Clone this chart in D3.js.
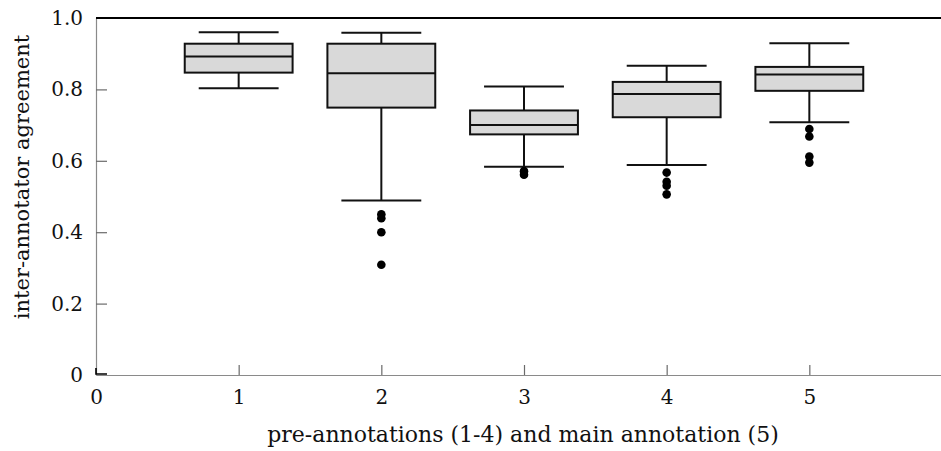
<!DOCTYPE html>
<html>
<head>
<meta charset="utf-8">
<script src="https://cdn.jsdelivr.net/npm/d3@7"></script>
<style>
  body { margin: 0; background: #fff; }
  text { font-family: "DejaVu Serif", serif; fill: #111; }
</style>
</head>
<body>
<div id="chart"></div>
<script>
// values
const groups = [1, 2, 3, 4, 5];
const whiskerHigh = [0.960, 0.959, 0.808, 0.866, 0.929];
const upperQuartile = [0.928, 0.928, 0.741, 0.821, 0.863];
const median = [0.892, 0.845, 0.700, 0.787, 0.842];
const lowerQuartile = [0.847, 0.749, 0.674, 0.722, 0.796];
const whiskerLow = [0.803, 0.489, 0.583, 0.588, 0.708];
const outliers = [
  [],
  [0.450, 0.439, 0.400, 0.309],
  [0.571, 0.561],
  [0.567, 0.541, 0.530, 0.506],
  [0.689, 0.668, 0.612, 0.595]
];
const xTicks = [0, 1, 2, 3, 4, 5];
const yTicks = [0, 0.2, 0.4, 0.6, 0.8, 1.0];
const xTitle = "pre-annotations (1-4) and main annotation (5)";
const yTitle = "inter-annotator agreement";

const width = 941, height = 451;
const margin = {top: 18, right: -11, bottom: 76, left: 96};

const svg = d3.select("#chart")
    .append("svg")
    .attr("width", width)
    .attr("height", height);

const x = d3.scaleLinear()
    .domain([0, 6])
    .range([margin.left, width - margin.right]);

const y = d3.scaleLinear()
    .domain([0, 1])
    .range([height - margin.bottom, margin.top]);

const boxes = groups.map((g, i) => ({
  g: g,
  hi: whiskerHigh[i],
  q3: upperQuartile[i],
  med: median[i],
  q1: lowerQuartile[i],
  lo: whiskerLow[i],
  out: outliers[i]
}));

// axes
const yAxis = svg.append("g")
    .attr("transform", "translate(" + x(0) + ",0)")
    .call(d3.axisLeft(y)
      .tickValues(yTicks)
      .tickFormat(d => d === 0 ? "0" : d3.format(".1f")(d))
      .tickSizeInner(-11)
      .tickSizeOuter(0)
      .tickPadding(13));

const xAxis = svg.append("g")
    .attr("transform", "translate(0," + y(0) + ")")
    .call(d3.axisBottom(x)
      .tickValues(xTicks)
      .tickFormat(d3.format("d"))
      .tickSizeInner(-10)
      .tickSizeOuter(0)
      .tickPadding(15));

[yAxis, xAxis].forEach(a => {
  a.select(".domain").attr("stroke", "#8a8a8a").attr("stroke-width", 1.2);
  a.selectAll(".tick line").attr("stroke", "#6a6a6a").attr("stroke-width", 1.2);
  a.selectAll(".tick text")
    .style("font-family", "'DejaVu Serif', serif")
    .style("font-size", "20px")
    .attr("fill", "#111");
});
// zero ticks get drawn separately as a small black corner
yAxis.selectAll(".tick").filter(d => d === 0 || d === 1).select("line").remove();
xAxis.selectAll(".tick").filter(d => d === 0).select("line").remove();

svg.append("path")
    .attr("d", d3.line()([[x(0), y(0) - 7], [x(0), y(0) - 1], [x(0) + 11, y(0) - 1]]))
    .attr("fill", "none")
    .attr("stroke", "#000")
    .attr("stroke-width", 1.6);

// top border
svg.append("line")
    .attr("x1", x(0))
    .attr("x2", width)
    .attr("y1", y(1))
    .attr("y2", y(1))
    .attr("stroke", "#000")
    .attr("stroke-width", 2);

// box plots
const boxHalf = (x(0.378) - x(0));
const capHalf = (x(0.28) - x(0));

const bg = svg.append("g").attr("class", "boxes");

const box = bg.selectAll("g.box")
    .data(boxes)
    .enter().append("g")
    .attr("class", "box");

box.append("line")
    .attr("x1", d => x(d.g)).attr("x2", d => x(d.g))
    .attr("y1", d => y(d.hi)).attr("y2", d => y(d.q3))
    .attr("stroke", "#111").attr("stroke-width", 2);

box.append("line")
    .attr("x1", d => x(d.g)).attr("x2", d => x(d.g))
    .attr("y1", d => y(d.q1)).attr("y2", d => y(d.lo))
    .attr("stroke", "#111").attr("stroke-width", 2);

box.append("line")
    .attr("x1", d => x(d.g) - capHalf).attr("x2", d => x(d.g) + capHalf)
    .attr("y1", d => y(d.hi)).attr("y2", d => y(d.hi))
    .attr("stroke", "#111").attr("stroke-width", 2);

box.append("line")
    .attr("x1", d => x(d.g) - capHalf).attr("x2", d => x(d.g) + capHalf)
    .attr("y1", d => y(d.lo)).attr("y2", d => y(d.lo))
    .attr("stroke", "#111").attr("stroke-width", 2);

box.append("rect")
    .attr("x", d => x(d.g) - boxHalf)
    .attr("width", boxHalf * 2)
    .attr("y", d => y(d.q3))
    .attr("height", d => y(d.q1) - y(d.q3))
    .attr("fill", "#d9d9d9")
    .attr("stroke", "#111")
    .attr("stroke-width", 2);

box.append("line")
    .attr("x1", d => x(d.g) - boxHalf).attr("x2", d => x(d.g) + boxHalf)
    .attr("y1", d => y(d.med)).attr("y2", d => y(d.med))
    .attr("stroke", "#111").attr("stroke-width", 2);

box.selectAll("circle")
    .data(d => d.out.map(v => ({g: d.g, v: v})))
    .enter().append("circle")
    .attr("cx", d => x(d.g))
    .attr("cy", d => y(d.v))
    .attr("r", 4.3)
    .attr("fill", "#000");

// axis titles
svg.append("text")
    .attr("x", 523)
    .attr("y", 442)
    .attr("text-anchor", "middle")
    .style("font-size", "22px")
    .text(xTitle);

svg.append("text")
    .attr("transform", "translate(29,177) rotate(-90)")
    .attr("text-anchor", "middle")
    .style("font-size", "21px")
    .text(yTitle);
</script>
</body>
</html>
